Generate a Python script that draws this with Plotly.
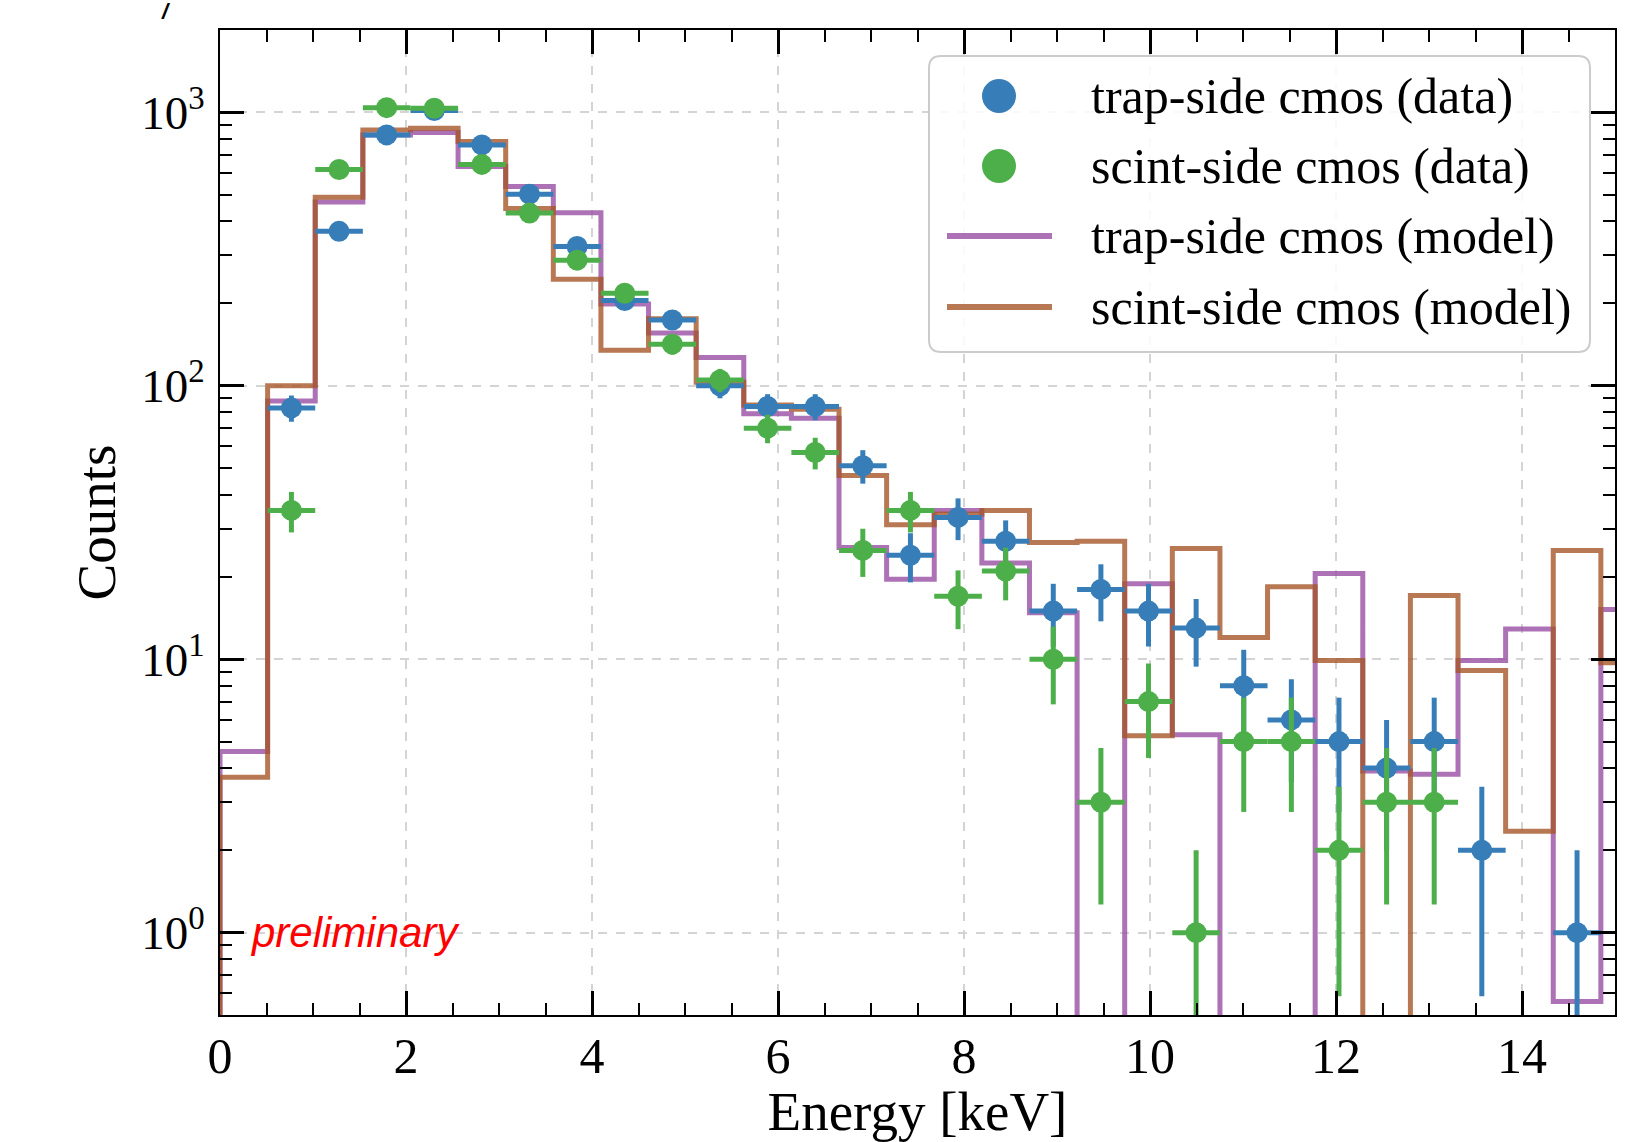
import numpy as np
import plotly.graph_objects as go

# ---------------- data ----------------
bin_edges = [0.0, 0.512, 1.024, 1.536, 2.048, 2.56, 3.072, 3.584, 4.096, 4.608,
             5.12, 5.632, 6.144, 6.656, 7.168, 7.68, 8.192, 8.704, 9.216, 9.728,
             10.24, 10.752, 11.264, 11.776, 12.288, 12.8, 13.312, 13.824, 14.336,
             14.848, 15.36]

trap_data = [0, 83, 367, 827, 1015, 760, 502, 323, 205, 174,
             100, 84, 84, 51, 24, 33, 27, 15, 18, 15,
             13, 8, 6, 5, 4, 5, 2, 0, 1, 0]

scint_data = [0, 35, 618, 1040, 1035, 645, 428, 288, 218, 142,
              105, 70, 57, 25, 35, 17, 21, 10, 3, 7,
              1, 5, 5, 2, 3, 3, 0, 0, 0, 0]

trap_model = [4.6, 88, 470, 826, 844, 634, 536, 429, 199, 156,
              127, 79, 76, 25.6, 19.6, 35, 22.5, 14.8, 0, 18.9,
              5.3, 0, 0, 20.6, 3.9, 3.8, 9.9, 12.9, 0.56, 15.2]

scint_model = [3.7, 100, 489, 862, 874, 782, 445, 245, 135, 176,
               103, 85, 82, 47, 31, 34, 35, 26.7, 27, 5.25,
               25.4, 12, 18.4, 9.9, 0, 17.1, 9.1, 2.35, 25, 9.7]

series_names = ["trap-side cmos (data)", "scint-side cmos (data)",
                "trap-side cmos (model)", "scint-side cmos (model)"]

x_tick_vals = [0, 2, 4, 6, 8, 10, 12, 14]
y_tick_vals = [1, 10, 100, 1000]
y_tick_text = ["10<sup>0</sup>", "10<sup>1</sup>", "10<sup>2</sup>", "10<sup>3</sup>"]

# ---------------- styles ----------------
C_BLUE = "#377eb8"
C_GREEN = "#4daf4a"
C_PURPLE = "rgba(152,78,163,0.8)"
C_BROWN = "rgba(166,86,40,0.8)"
FONT = "Liberation Serif"

edges = np.array(bin_edges)
centers = 0.5 * (edges[:-1] + edges[1:])
half_w = 0.5 * (edges[1:] - edges[:-1])

FLOOR = 1e-3


def step_xy(vals):
    v = [val if val > 0 else FLOOR for val in vals]
    xs = [edges[0]] + list(edges[:-1]) + [edges[-1]]
    ys = [FLOOR] + v + [v[-1]]
    return xs, ys


def data_trace(counts, color, name):
    c = np.array(counts, dtype=float)
    y = [v if v > 0 else None for v in c]
    err = np.sqrt(c)
    err_minus = np.where(c - err <= 0, c - FLOOR, err)
    return go.Scatter(
        x=centers, y=y, mode="markers", name=name, showlegend=False,
        marker=dict(color=color, size=21, line=dict(width=0)),
        error_y=dict(type="data", array=err, arrayminus=err_minus, symmetric=False,
                     color=color, thickness=5, width=0),
        error_x=dict(type="data", array=half_w, color=color, thickness=5, width=0),
    )


fig = go.Figure()

xs, ys = step_xy(trap_model)
fig.add_trace(go.Scatter(x=xs, y=ys, mode="lines", line=dict(color=C_PURPLE, width=5, shape="hv"),
                         name=series_names[2], showlegend=False))
xs, ys = step_xy(scint_model)
fig.add_trace(go.Scatter(x=xs, y=ys, mode="lines", line=dict(color=C_BROWN, width=5, shape="hv"),
                         name=series_names[3], showlegend=False))
fig.add_trace(data_trace(trap_data, C_BLUE, series_names[0]))
fig.add_trace(data_trace(scint_data, C_GREEN, series_names[1]))

# ---------------- axes ----------------
axis_common = dict(
    showline=True, linecolor="black", linewidth=2, mirror="ticks",
    ticks="inside", ticklen=24, tickwidth=2.5, tickcolor="black",
    showgrid=True, gridcolor="#d4d4d4", gridwidth=1.5, griddash="dash",
    zeroline=False,
)

fig.update_xaxes(
    **axis_common,
    tickfont=dict(family=FONT, size=50, color="black"),
    range=[0, 15], tickmode="array", tickvals=x_tick_vals,
    ticklabelstandoff=-4,
    minor=dict(ticks="inside", ticklen=12, tickwidth=2, tickcolor="black", dtick=0.5,
               tick0=0, showgrid=False),
    title=dict(text="Energy [keV]", font=dict(family=FONT, size=55, color="black"), standoff=22),
)

minor_y = [0.6, 0.7, 0.8, 0.9] + [d * m for m in (1, 10, 100) for d in range(2, 10)] + [2000]
fig.update_yaxes(
    **axis_common,
    tickfont=dict(family=FONT, size=47, color="black"),
    type="log", range=[np.log10(0.5), np.log10(2000)],
    tickmode="array", tickvals=y_tick_vals, ticktext=y_tick_text,
    ticklabelstandoff=4,
    minor=dict(ticks="inside", ticklen=12, tickwidth=2, tickcolor="black",
               tickmode="array", tickvals=minor_y, showgrid=False),
    title=dict(text="Counts", font=dict(family=FONT, size=55, color="black"), standoff=8),
)

# ---------------- manual legend ----------------
L, R, T, B = 220, 35, 30, 127
W, H = 1650, 1142
PW, PH = W - L - R, H - T - B


def px(xp):
    return (xp - L) / PW


def py(yp):
    return (H - B - yp) / PH


x0, x1, y0, y1 = px(929), px(1590), py(352), py(56)
rx, ry = 12 / PW, 12 / PH
path = (f"M {x0+rx},{y0} L {x1-rx},{y0} Q {x1},{y0} {x1},{y0+ry} "
        f"L {x1},{y1-ry} Q {x1},{y1} {x1-rx},{y1} L {x0+rx},{y1} "
        f"Q {x0},{y1} {x0},{y1-ry} L {x0},{y0+ry} Q {x0},{y0} {x0+rx},{y0} Z")
shapes = [dict(type="path", path=path, xref="paper", yref="paper",
               fillcolor="rgba(255,255,255,0.85)", line=dict(color="#cccccc", width=2))]

row_y = [96, 166, 236, 307]
marker_colors = [C_BLUE, C_GREEN]
for i in range(2):
    shapes.append(dict(type="circle", xref="paper", yref="paper",
                       xsizemode="pixel", ysizemode="pixel",
                       xanchor=px(999), yanchor=py(row_y[i]),
                       x0=-17, x1=17, y0=-17, y1=17,
                       fillcolor=marker_colors[i], line=dict(width=0)))
line_colors = [C_PURPLE, C_BROWN]
for i in range(2):
    shapes.append(dict(type="line", xref="paper", yref="paper",
                       x0=px(947), x1=px(1052), y0=py(row_y[i + 2]), y1=py(row_y[i + 2]),
                       line=dict(color=line_colors[i], width=6)))

annotations = []
for i, name in enumerate(series_names):
    annotations.append(dict(text=name, xref="paper", yref="paper", x=px(1089), y=py(row_y[i]),
                            xanchor="left", yanchor="middle", showarrow=False,
                            font=dict(family=FONT, size=50, color="black")))

annotations.append(dict(text="<i>preliminary</i>", xref="x", yref="y", x=0.3, y=0,
                        xanchor="left", yanchor="middle", showarrow=False,
                        font=dict(family="Liberation Sans", size=42, color="red")))
annotations.append(dict(text="<b><i>/</i></b>", xref="paper", yref="paper", x=px(166), y=py(11),
                        xanchor="center", yanchor="middle", showarrow=False,
                        font=dict(family="Liberation Sans", size=22, color="black")))

fig.update_layout(
    width=W, height=H,
    margin=dict(l=L, r=R, t=T, b=B, autoexpand=False),
    paper_bgcolor="white", plot_bgcolor="white",
    showlegend=False,
    shapes=shapes, annotations=annotations,
    font=dict(family=FONT, color="black"),
)

fig.write_html("out.html")
